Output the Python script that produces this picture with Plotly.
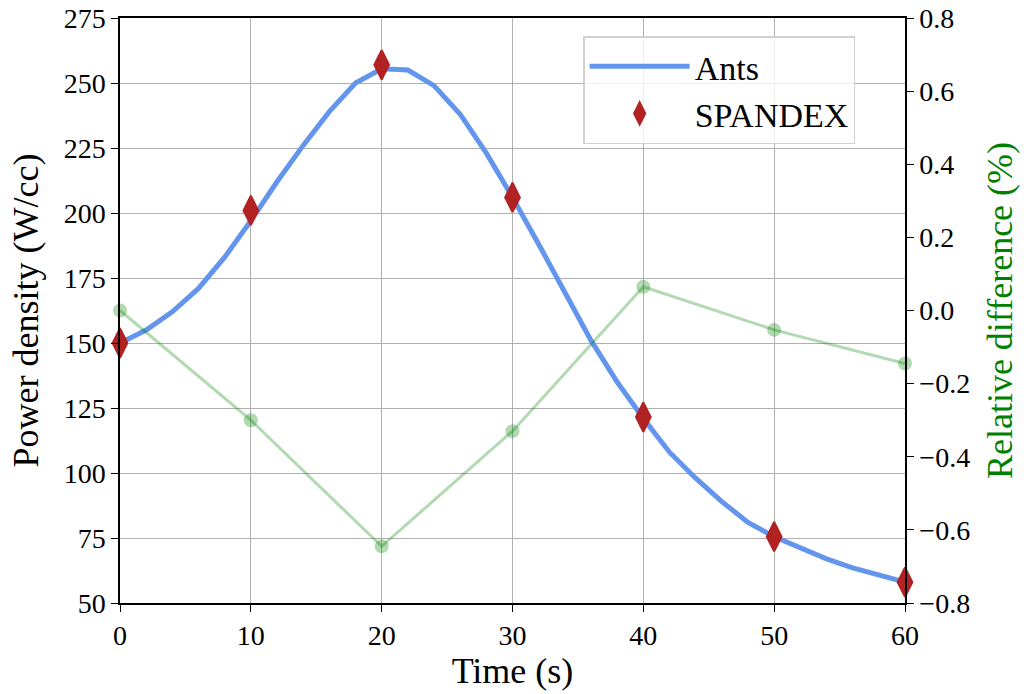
import plotly.graph_objects as go

# Ants (continuous simulation)
ants_t = [0, 2, 4, 6, 8, 10, 12, 14, 16, 18, 20, 22, 24, 26, 28, 30, 32, 34, 36, 38, 40, 42, 44, 46, 48, 50, 52, 54, 56, 58, 60]
ants_p = [150, 155, 162, 171, 183, 197, 212, 226, 239, 250, 255.5, 255, 249, 238, 223, 206, 188, 169, 151, 135, 121, 108, 98, 89, 81, 75.5, 71, 67, 63.5, 60.5, 58]

# SPANDEX (discrete)
sp_t = [0, 10, 20, 30, 40, 50, 60]
sp_p = [150, 201, 257, 206, 121.5, 75.5, 58]

# Relative difference (%)
rd_t = [0, 10, 20, 30, 40, 50, 60]
rd_v = [0.0, -0.30, -0.645, -0.33, 0.065, -0.053, -0.145]

FONT = "Liberation Serif"
TICK = 28
TITLE = 36

fig = go.Figure()
fig.add_trace(go.Scatter(x=ants_t, y=ants_p, mode="lines", name="Ants",
                         line=dict(color="#6495ED", width=5), yaxis="y"))
fig.add_trace(go.Scatter(x=sp_t, y=sp_p, mode="markers", name="SPANDEX",
                         marker=dict(symbol="diamond-tall", size=21, color="#B22222",
                                     line=dict(color="#B22222", width=2)),
                         cliponaxis=False, yaxis="y"))
fig.add_trace(go.Scatter(x=rd_t, y=rd_v, mode="lines+markers", showlegend=False,
                         line=dict(color="rgba(0,128,0,0.3)", width=3),
                         marker=dict(symbol="circle", size=14, color="rgba(0,128,0,0.3)"),
                         cliponaxis=False, yaxis="y2"))

axis_common = dict(showline=True, linecolor="black", linewidth=1.5,
                   ticks="outside", ticklen=7, tickcolor="black", tickwidth=1.2,
                   tickfont=dict(family=FONT, size=TICK, color="black"), zeroline=False,
                   automargin=False, ticklabeloverflow="allow")

fig.update_layout(
    width=1029, height=694,
    margin=dict(l=120, r=124, t=18, b=91),
    paper_bgcolor="white", plot_bgcolor="white",
    font=dict(family=FONT, color="black"),
    xaxis=dict(range=[0, 60], tickvals=[0, 10, 20, 30, 40, 50, 60], mirror=True,
               showgrid=True, gridcolor="#b0b0b0", gridwidth=1,
               title=dict(text="Time (s)", font=dict(family=FONT, size=TITLE), standoff=2),
               **axis_common),
    yaxis=dict(range=[50, 275], tickvals=list(range(50, 276, 25)), mirror=True,
               showgrid=True, gridcolor="#b0b0b0", gridwidth=1,
               title=dict(text="Power density (W/cc)", font=dict(family=FONT, size=TITLE), standoff=14),
               **axis_common),
    yaxis2=dict(range=[-0.8, 0.8], tickvals=[-0.8, -0.6, -0.4, -0.2, 0.0, 0.2, 0.4, 0.6, 0.8],
                ticktext=["\u22120.8", "\u22120.6", "\u22120.4", "\u22120.2", "0.0", "0.2", "0.4", "0.6", "0.8"],
                overlaying="y", side="right", showgrid=False,
                title=dict(text="Relative difference (%)", font=dict(family=FONT, size=TITLE, color="green"), standoff=18),
                **axis_common),
    legend=dict(x=0.59, y=0.969, xanchor="left", yanchor="top",
                bgcolor="rgba(255,255,255,0.8)", bordercolor="#d0d0d0", borderwidth=1.5,
                font=dict(family=FONT, size=34), itemwidth=100, tracegroupgap=8),
    showlegend=True,
)

fig.write_html("out.html", config={"displayModeBar": False},
               post_script="document.body.style.margin='0';")
